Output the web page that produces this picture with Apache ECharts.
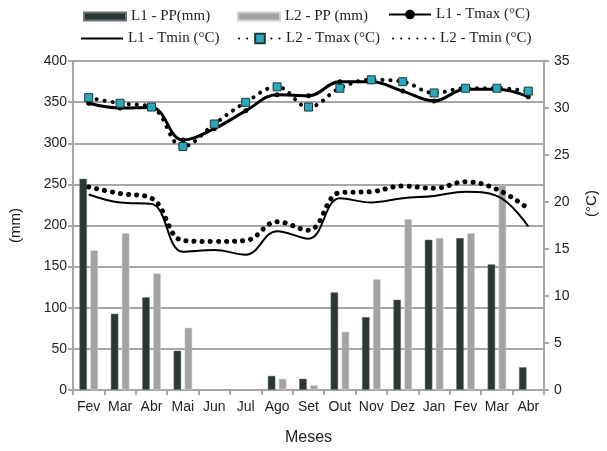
<!DOCTYPE html>
<html>
<head>
<meta charset="utf-8">
<script src="https://cdn.jsdelivr.net/npm/echarts@6/dist/echarts.min.js"></script>
<style>html,body{margin:0;padding:0;background:#fff}#c{width:607px;height:451px}</style>
</head>
<body>
<div id="c"></div>
<script>
const months = ['Fev','Mar','Abr','Mai','Jun','Jul','Ago','Set','Out','Nov','Dez','Jan','Fev','Mar','Abr'];
const l1PP = [257, 93, 113, 48, null, null, 17.5, 14, 119, 89, 110, 183, 185, 153, 28];
const l2PP = [170, 191, 142, 76, null, null, 14, 6, 71, 135, 208, 185, 191, 249, null];
const l1Tmax = [30.5, 30.0, 30.05, 26.6, 27.8, 29.7, 31.4, 31.3, 32.8, 32.8, 31.8, 30.75, 32.0, 32.0, 31.2];
const l1Tmin = [20.8, 19.95, 19.8, 14.7, 14.9, 14.4, 16.9, 16.1, 20.4, 19.95, 20.4, 20.65, 21.1, 20.65, 17.4];
const l2Tmax = [31.1, 30.5, 30.1, 25.9, 28.3, 30.6, 32.25, 30.1, 32.1, 33.0, 32.8, 31.6, 32.1, 32.1, 31.8];
const l2Tmin = [21.6, 20.9, 20.4, 15.9, 15.8, 15.9, 17.9, 17.0, 21.0, 21.1, 21.7, 21.45, 22.15, 21.35, 19.3];
const mmTicks = [0, 400, 50];
const tTicks = [0, 35, 5];

const chart = echarts.init(document.getElementById('c'), null, {renderer: 'canvas'});
const gray = '#a6a6a6';
const txt = '#222';
const legFont = {fontFamily: 'Liberation Serif', fontSize: 15, color: txt};
function leg(item, left, top, extra) {
  return Object.assign({
    data: [item], left: left, top: top, itemWidth: 42, itemHeight: 8,
    textStyle: legFont, padding: 0, itemGap: 0, selectedMode: false
  }, extra || {});
}
const option = {
  animation: false,
  legend: [
    leg({name: 'L1 - PP(mm)', icon: 'rect'}, 83, 9),
    leg({name: 'L2 - PP (mm)', icon: 'rect'}, 237, 9),
    leg({name: 'L1 - Tmax (°C)', itemStyle: {borderWidth: 0}}, 388, 7, {itemHeight: 12}),
    leg({name: 'L1 - Tmin (°C)', itemStyle: {opacity: 0}}, 80, 31, {itemHeight: 12}),
    leg({name: 'L2 - Tmax (°C)'}, 238, 31, {itemHeight: 12}),
    leg({name: 'L2 - Tmin (°C)', itemStyle: {opacity: 0}}, 392, 31, {itemHeight: 12})
  ],
  grid: {left: 70, right: 56, top: 61, bottom: 55, containLabel: false},
  xAxis: {
    type: 'category', data: months, boundaryGap: true,
    name: 'Meses', nameLocation: 'middle', nameGap: 40,
    nameTextStyle: {fontFamily: 'Liberation Sans', fontSize: 16, color: txt},
    axisLine: {lineStyle: {color: gray, width: 2}},
    axisTick: {show: true, length: 5, lineStyle: {color: gray, width: 2}},
    axisLabel: {fontFamily: 'Liberation Sans', fontSize: 14, color: txt, margin: 10, interval: 0}
  },
  yAxis: [{
    type: 'value', min: mmTicks[0], max: mmTicks[1], interval: mmTicks[2],
    name: '(mm)', nameLocation: 'middle', nameGap: 50, nameRotate: 90,
    nameTextStyle: {fontFamily: 'Liberation Sans', fontSize: 15, color: txt},
    axisLine: {show: true, lineStyle: {color: gray, width: 2}},
    axisTick: {show: true, length: 5, lineStyle: {color: gray, width: 2}},
    axisLabel: {fontFamily: 'Liberation Sans', fontSize: 14, color: txt, margin: 6},
    splitLine: {show: true, lineStyle: {color: gray, width: 2}}
  }, {
    type: 'value', min: tTicks[0], max: tTicks[1], interval: tTicks[2], position: 'right',
    name: '(°C)', nameLocation: 'middle', nameGap: 40, nameRotate: 90,
    nameTextStyle: {fontFamily: 'Liberation Sans', fontSize: 15, color: txt, padding: [0, 0, 0, 44]},
    axisLine: {show: true, lineStyle: {color: gray, width: 2}},
    axisTick: {show: true, length: 5, lineStyle: {color: gray, width: 2}},
    axisLabel: {fontFamily: 'Liberation Sans', fontSize: 14, color: txt, margin: 10},
    splitLine: {show: false}
  }],
  series: [
    {name: 'L1 - PP(mm)', type: 'bar', data: l1PP, barWidth: 8, barGap: '38%', yAxisIndex: 0,
     itemStyle: {color: '#2b3636', borderColor: '#6d7575', borderWidth: 1, borderType: 'dotted'}},
    {name: 'L2 - PP (mm)', type: 'bar', data: l2PP, barWidth: 8, yAxisIndex: 0,
     itemStyle: {color: '#a3a3a3', borderColor: '#cfcfcf', borderWidth: 1, borderType: 'dotted'}},
    {name: 'L1 - Tmax (°C)', type: 'line', data: l1Tmax, yAxisIndex: 1, smooth: 0.4,
     symbol: 'circle', symbolSize: 5, z: 5,
     lineStyle: {color: '#000', width: 3}, itemStyle: {color: '#000'}},
    {name: 'L1 - Tmin (°C)', type: 'line', data: l1Tmin, yAxisIndex: 1, smooth: 0.4,
     symbol: 'none', z: 5,
     lineStyle: {color: '#000', width: 2}, itemStyle: {color: '#000'}},
    {name: 'L2 - Tmax (°C)', type: 'line', data: l2Tmax, yAxisIndex: 1, smooth: 0.4,
     symbol: 'rect', symbolSize: 8, z: 6,
     lineStyle: {color: '#000', width: 4, type: [0.1, 8], cap: 'round'},
     itemStyle: {color: '#2aa9ba', borderColor: '#1b3a40', borderWidth: 1}},
    {name: 'L2 - Tmin (°C)', type: 'line', data: l2Tmin, yAxisIndex: 1, smooth: 0.4,
     symbol: 'none', z: 5,
     lineStyle: {color: '#000', width: 5, type: [0.1, 8], cap: 'round'},
     itemStyle: {color: '#000'}}
  ]
};
chart.setOption(option);
</script>
</body>
</html>
